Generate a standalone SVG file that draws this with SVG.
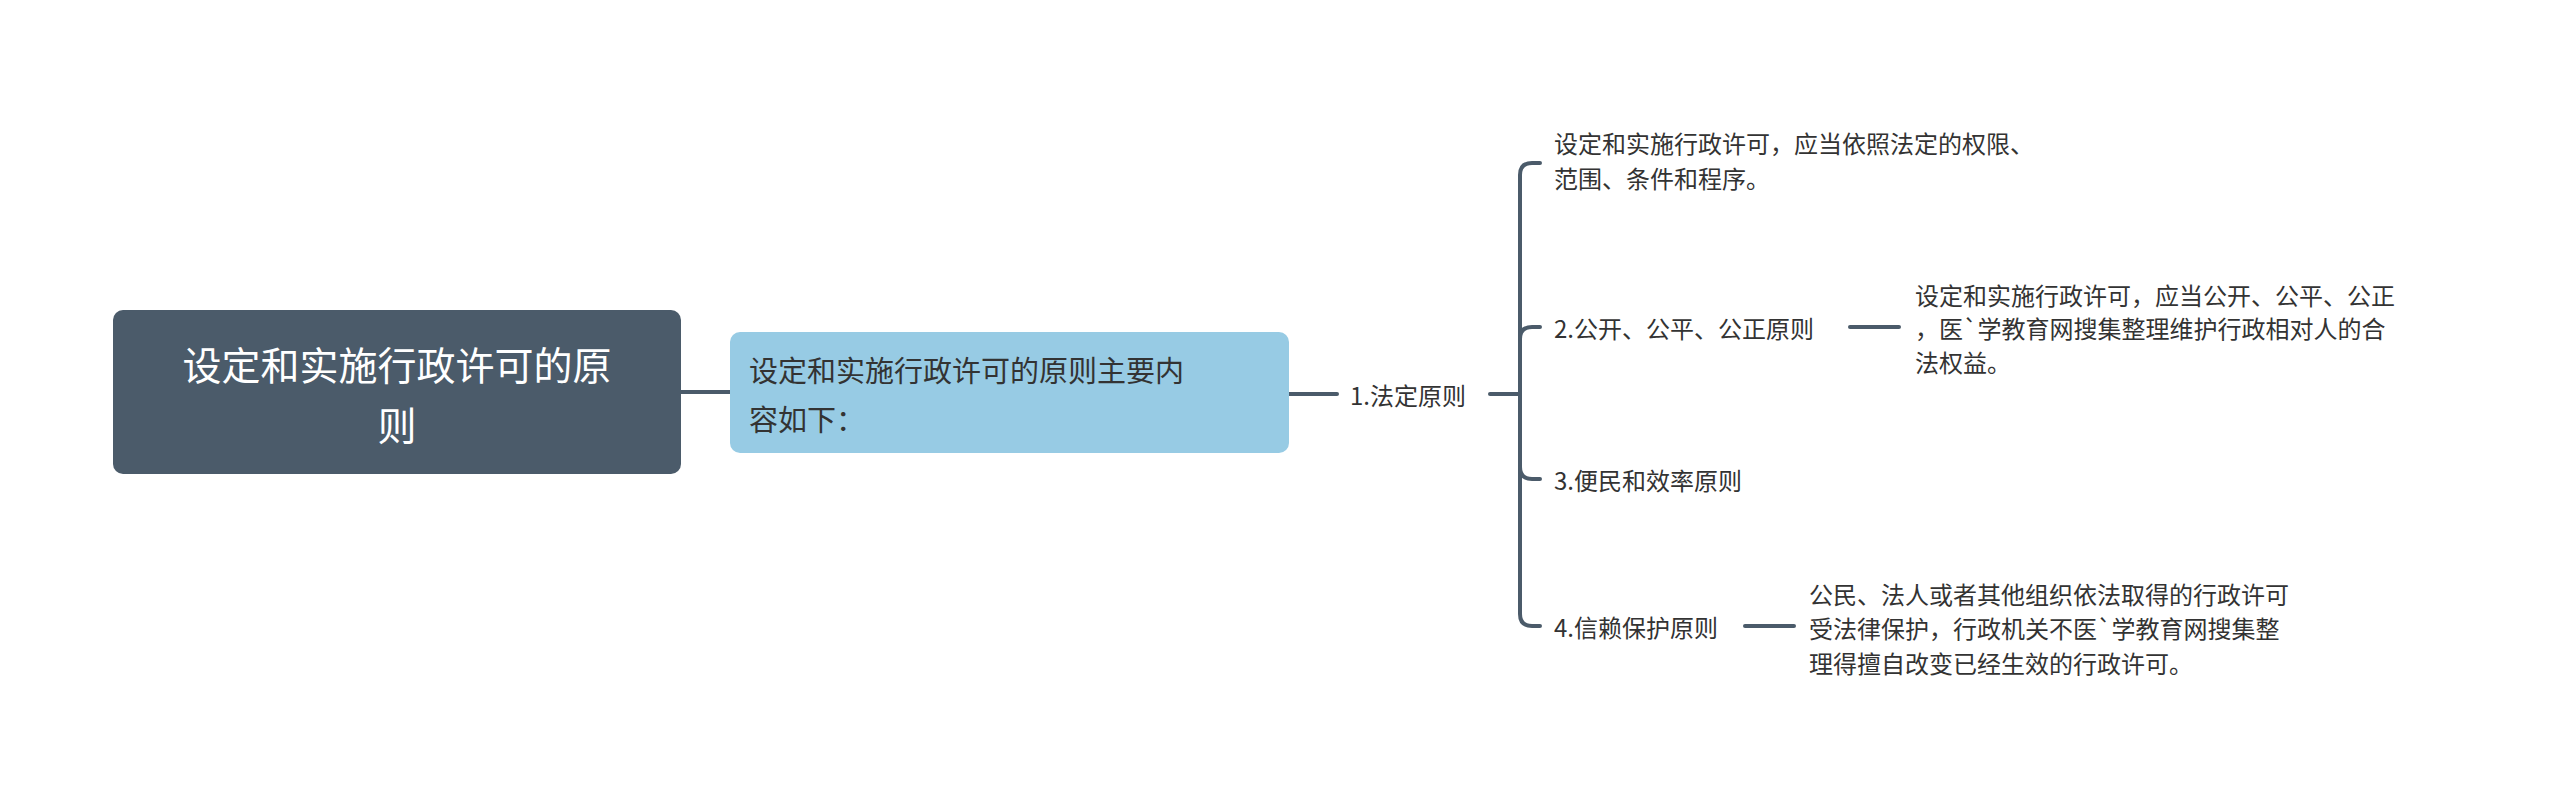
<svg xmlns="http://www.w3.org/2000/svg" width="2560" height="801" viewBox="0 0 2560 801">
<style>
text{font-family:"Noto Sans CJK SC","Liberation Sans",sans-serif;fill:#333;dominant-baseline:central}
.c{fill:none;stroke:#4b5b6a;stroke-width:4;stroke-linecap:round}
.t{font-size:24px}
</style>
<rect width="2560" height="801" fill="#fff"/>
<g id="connectors">
<path class="c" d="M681 392H730"/>
<path class="c" d="M1289 394H1337"/>
<path class="c" d="M1490 394H1520"/>
<path class="c" d="M1540 163H1532Q1520 163 1520 175V614Q1520 626 1532 626H1540"/>
<path class="c" d="M1520 339Q1520 327 1532 327H1540"/>
<path class="c" d="M1520 467Q1520 479 1532 479H1540"/>
<path class="c" d="M1850 327H1899"/>
<path class="c" d="M1745 626H1794"/>
</g>
<g id="root">
<rect x="113" y="310" width="568" height="164" rx="10" fill="#4b5b6a"/>
<text x="397" y="363" text-anchor="middle" font-size="39" style="fill:#fff">设定和实施行政许可的原</text>
<text x="397" y="423" text-anchor="middle" font-size="39" style="fill:#fff">则</text>
</g>
<g id="sub">
<rect x="730" y="332" width="559" height="121" rx="10" fill="#97cbe4"/>
<text x="749" y="369" font-size="29">设定和实施行政许可的原则主要内</text>
<text x="749" y="418" font-size="29">容如下：</text>
</g>
<g id="n1"><text class="t" x="1350" y="394">1.法定原则</text></g>
<g id="c1"><text class="t" x="1554" y="142">设定和实施行政许可，应当依照法定的权限、</text><text class="t" x="1554" y="177">范围、条件和程序。</text></g>
<g id="c2"><text class="t" x="1554" y="327">2.公开、公平、公正原则</text></g>
<g id="c2d"><text class="t" x="1915" y="294">设定和实施行政许可，应当公开、公平、公正</text><text class="t" x="1915" y="327">，医`学教育网搜集整理维护行政相对人的合</text><text class="t" x="1915" y="361">法权益。</text></g>
<g id="c3"><text class="t" x="1554" y="479">3.便民和效率原则</text></g>
<g id="c4"><text class="t" x="1554" y="626">4.信赖保护原则</text></g>
<g id="c4d"><text class="t" x="1809" y="593">公民、法人或者其他组织依法取得的行政许可</text><text class="t" x="1809" y="627">受法律保护，行政机关不医`学教育网搜集整</text><text class="t" x="1809" y="662">理得擅自改变已经生效的行政许可。</text></g>
</svg>
